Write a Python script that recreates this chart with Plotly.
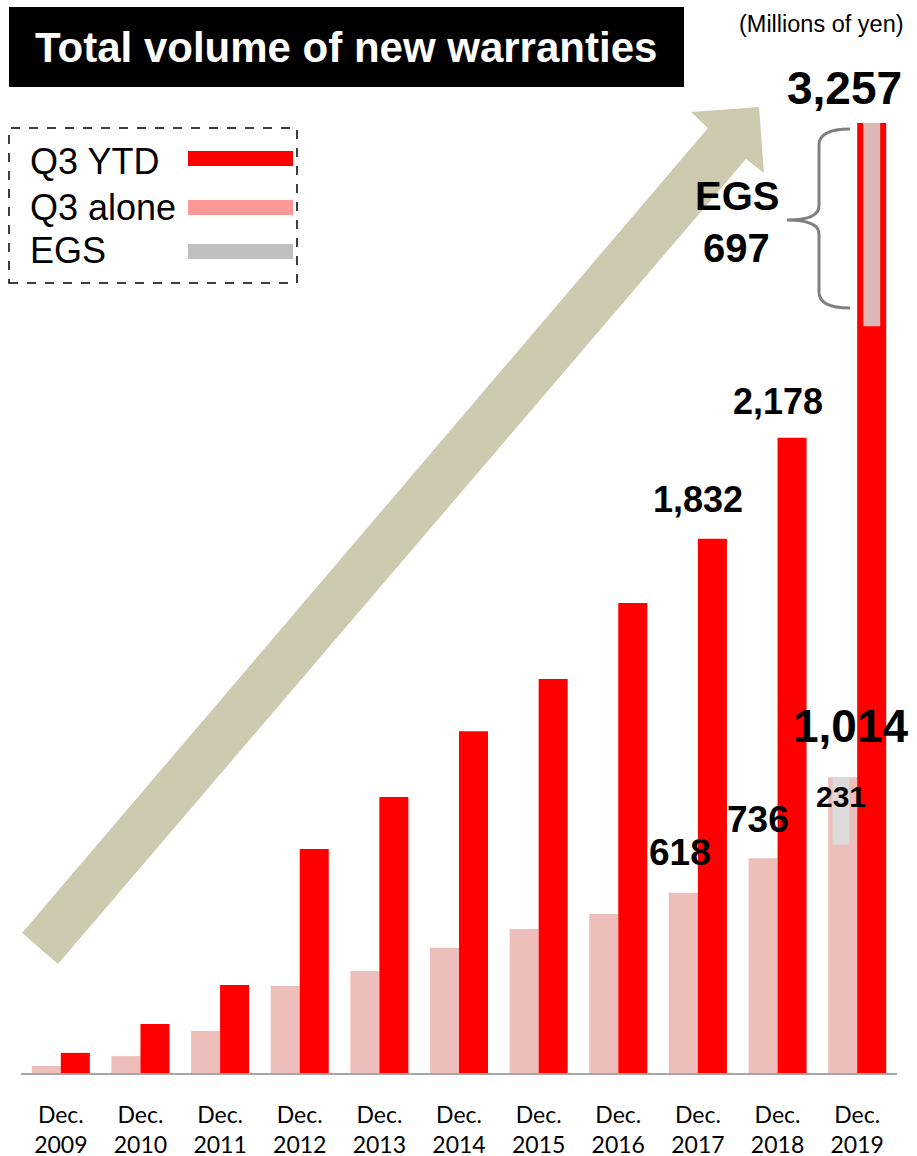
import plotly.graph_objects as go

# ---- data ----
categories = ["Dec.<br>2009", "Dec.<br>2010", "Dec.<br>2011", "Dec.<br>2012", "Dec.<br>2013",
              "Dec.<br>2014", "Dec.<br>2015", "Dec.<br>2016", "Dec.<br>2017", "Dec.<br>2018",
              "Dec.<br>2019"]
q3_alone = [24, 58, 144, 298, 350, 429, 494, 545, 618, 736, 1014]
q3_ytd = [69, 168, 302, 768, 946, 1172, 1351, 1611, 1832, 2178, 3257]
egs_ytd_2019 = 697
egs_alone_2019 = 231

W, H = 917, 1156
ML, MR, MT, MB = 21, 20, 100, 83
PW, PH = W - ML - MR, H - MT - MB
SCALE = 950 / 3257.0
YMAX = PH / SCALE

def px(xp):
    return (xp - ML) / PW

def py(yp):
    return (H - MB - yp) / PH

xs = list(range(len(categories)))
RED = "#FF0000"
PINK = "#EEBFBA"

fig = go.Figure()
fig.add_trace(go.Bar(x=xs, y=q3_alone, marker=dict(color=PINK, line=dict(width=0)),
                     offsetgroup="a", name="Q3 alone", showlegend=False))
fig.add_trace(go.Bar(x=xs, y=q3_ytd, marker=dict(color=RED, line=dict(width=0)),
                     offsetgroup="b", name="Q3 YTD", showlegend=False))
last = len(categories) - 1
# EGS segments for 2019
fig.add_trace(go.Bar(x=[last], y=[egs_ytd_2019], base=[q3_ytd[last] - egs_ytd_2019],
                     width=[0.214], offset=[0.075],
                     marker=dict(color="#DDB6B6", line=dict(width=0)), showlegend=False))
fig.add_trace(go.Bar(x=[last], y=[egs_alone_2019], base=[q3_alone[last] - egs_alone_2019],
                     width=[0.214], offset=[-0.31],
                     marker=dict(color="#DCDADA", line=dict(width=0)), showlegend=False))

shapes = []
annotations = []

def path(points, close=True):
    s = "M " + " L ".join(f"{px(a):.5f},{py(b):.5f}" for a, b in points)
    return s + (" Z" if close else "")

# big arrow
arrow_pts = [(22, 933), (708, 128), (691, 112), (759, 107), (764, 173), (746, 159), (58, 964)]
shapes.append(dict(type="path", xref="paper", yref="paper", path=path(arrow_pts),
                   fillcolor="#CECAB0", line=dict(width=0), layer="below"))

# title box
shapes.append(dict(type="rect", xref="paper", yref="paper", x0=px(9), x1=px(684), y0=py(87), y1=py(7),
                   fillcolor="black", line=dict(width=0)))
annotations.append(dict(xref="paper", yref="paper", x=px(346), y=py(47), text="Total volume of new warranties",
                        showarrow=False, xanchor="center", yanchor="middle",
                        font=dict(family="Liberation Sans", size=42, color="white", weight=700)))
annotations.append(dict(xref="paper", yref="paper", x=px(821), y=py(24), text="(Millions of yen)",
                        showarrow=False, xanchor="center", yanchor="middle",
                        font=dict(family="Liberation Sans", size=23.5, color="black")))

# legend box
shapes.append(dict(type="rect", xref="paper", yref="paper", x0=px(9), x1=px(297), y0=py(283), y1=py(128),
                   line=dict(color="black", width=1.5, dash="dash"), fillcolor="rgba(0,0,0,0)"))
leg = [("Q3 YTD", RED, 161, 151), ("Q3 alone", "#FF9999", 207, 200), ("EGS", "#BFBFBF", 250, 244)]
for label, col, ty, sy in leg:
    annotations.append(dict(xref="paper", yref="paper", x=px(28), y=py(ty), text=label, showarrow=False,
                            xanchor="left", yanchor="middle",
                            font=dict(family="Liberation Sans", size=36, color="black")))
    shapes.append(dict(type="rect", xref="paper", yref="paper", x0=px(188), x1=px(293), y0=py(sy + 15), y1=py(sy),
                       fillcolor=col, line=dict(width=0)))

# brace
brace = ("M {a} Q {b} {c} L {d} Q {e} {f} Q {g} {h} L {i} Q {j} {k}").format(
    a=f"{px(850):.5f},{py(129):.5f}", b=f"{px(819):.5f},{py(129):.5f}", c=f"{px(819):.5f},{py(145):.5f}",
    d=f"{px(819):.5f},{py(206):.5f}", e=f"{px(819):.5f},{py(220):.5f}", f=f"{px(787):.5f},{py(220):.5f}",
    g=f"{px(819):.5f},{py(220):.5f}", h=f"{px(819):.5f},{py(234):.5f}", i=f"{px(819):.5f},{py(292):.5f}",
    j=f"{px(819):.5f},{py(308):.5f}", k=f"{px(850):.5f},{py(308):.5f}")
shapes.append(dict(type="path", xref="paper", yref="paper", path=brace, line=dict(color="#808080", width=3)))

annotations.append(dict(xref="paper", yref="paper", x=px(737), y=py(196), text="EGS", showarrow=False,
                        xanchor="center", yanchor="middle",
                        font=dict(family="Liberation Sans", size=40, color="black", weight=700)))
annotations.append(dict(xref="paper", yref="paper", x=px(736), y=py(248), text=f"{egs_ytd_2019:,}", showarrow=False,
                        xanchor="center", yanchor="middle",
                        font=dict(family="Liberation Sans", size=40, color="black", weight=700)))

# value labels (anchored to data)
def vlabel(i, val, size, xshift, yshift, yref_val=None):
    annotations.append(dict(xref="x", yref="y", x=i, y=val if yref_val is None else yref_val,
                            text=f"{val:,}", showarrow=False, xanchor="center", yanchor="middle",
                            xshift=xshift, yshift=yshift,
                            font=dict(family="Liberation Sans", size=size, color="black", weight=700)))

vlabel(10, q3_ytd[10], 46, -13, 35)
vlabel(9, q3_ytd[9], 36, 0, 36)
vlabel(8, q3_ytd[8], 36, 0, 39)
vlabel(10, q3_alone[10], 46, -6, 51)
vlabel(9, q3_alone[9], 37, -20, 39)
vlabel(8, q3_alone[8], 37, -18, 40)
vlabel(10, egs_alone_2019, 30, -16, -19, yref_val=q3_alone[10])

fig.update_layout(
    width=W, height=H,
    margin=dict(l=ML, r=MR, t=MT, b=MB, pad=0, autoexpand=False),
    paper_bgcolor="white", plot_bgcolor="white",
    barmode="group", bargap=0.271, bargroupgap=0,
    shapes=shapes, annotations=annotations,
    showlegend=False,
    xaxis=dict(tickmode="array", tickvals=xs, ticktext=categories, range=[-0.5, len(categories) - 0.5],
               showline=True, linecolor="#A6A6A6", linewidth=2, ticks="", showgrid=False, zeroline=False,
               tickfont=dict(family="Lato", size=23, color="black"), ticklabelstandoff=20,
               automargin=False, fixedrange=True),
    yaxis=dict(range=[0, YMAX], visible=False, showgrid=False, zeroline=False, automargin=False,
               fixedrange=True),
)

fig.write_html("out.html", config={"displayModeBar": False},
               post_script="document.body.style.margin='0';document.body.style.overflow='hidden';")
